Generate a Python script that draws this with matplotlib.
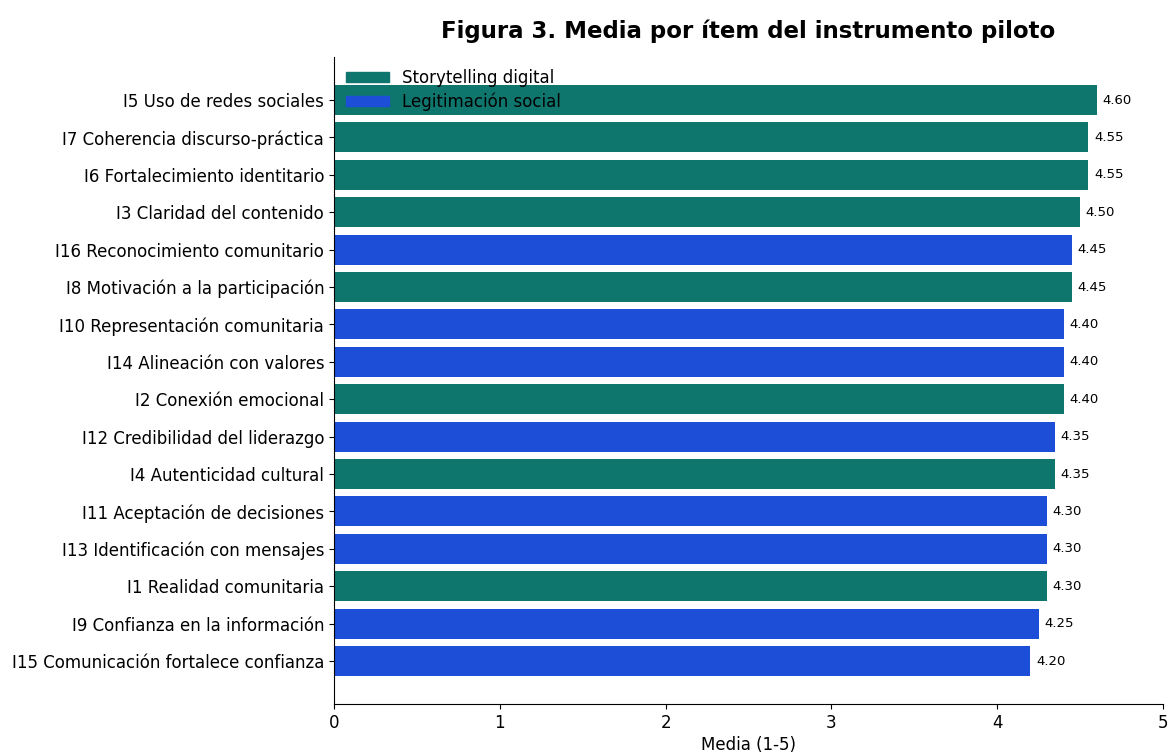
import matplotlib
matplotlib.use('Agg')
import matplotlib.pyplot as plt
from matplotlib.patches import Patch

# items from top to bottom as in the figure
items = ["I5 Uso de redes sociales", "I7 Coherencia discurso-práctica",
         "I6 Fortalecimiento identitario", "I3 Claridad del contenido",
         "I16 Reconocimiento comunitario", "I8 Motivación a la participación",
         "I10 Representación comunitaria", "I14 Alineación con valores",
         "I2 Conexión emocional", "I12 Credibilidad del liderazgo",
         "I4 Autenticidad cultural", "I11 Aceptación de decisiones",
         "I13 Identificación con mensajes", "I1 Realidad comunitaria",
         "I9 Confianza en la información", "I15 Comunicación fortalece confianza"]
means = [4.60, 4.55, 4.55, 4.50, 4.45, 4.45, 4.40, 4.40, 4.40, 4.35, 4.35,
         4.30, 4.30, 4.30, 4.25, 4.20]
dimension = ["S", "S", "S", "S", "L", "S", "L", "L", "S", "L", "S",
             "L", "L", "S", "L", "L"]

colors = {"S": "#0f766e", "L": "#1d4ed8"}
names = {"S": "Storytelling digital", "L": "Legitimación social"}

fig = plt.figure(figsize=(11.71, 7.55), dpi=100)
ax = fig.add_axes([0.2852, 0.0675, 0.708, 0.857])

# draw bottom-up so the first item ends on top
ypos = list(range(len(items)))[::-1]
bar_colors = [colors[d] for d in dimension]
bars = ax.barh(ypos, means, height=0.8, color=bar_colors)

for y, v in zip(ypos, means):
    ax.annotate(f"{v:.2f}", (v, y), xytext=(4, 0), textcoords="offset points",
                va="center", ha="left", fontsize=9.5)

ax.set_yticks(ypos)
ax.set_yticklabels(items, fontsize=12)
ax.set_xlim(0, 5)
ax.set_ylim(-1.15, len(items) - 1 + 1.15)
ax.tick_params(axis='x', labelsize=12)
ax.set_xlabel("Media (1-5)", fontsize=12, labelpad=3)
ax.spines['top'].set_visible(False)
ax.spines['right'].set_visible(False)

handles = [Patch(color=colors["S"], label=names["S"]),
           Patch(color=colors["L"], label=names["L"])]
ax.legend(handles=handles, loc="upper left", frameon=False, fontsize=12,
          handlelength=2.6, handleheight=0.55, labelspacing=0.35,
          borderaxespad=0.3)

fig.text(0.6392, 0.958, "Figura 3. Media por ítem del instrumento piloto",
         ha="center", va="center", fontsize=16.5, fontweight="bold")

plt.savefig("out.png", dpi=100)
